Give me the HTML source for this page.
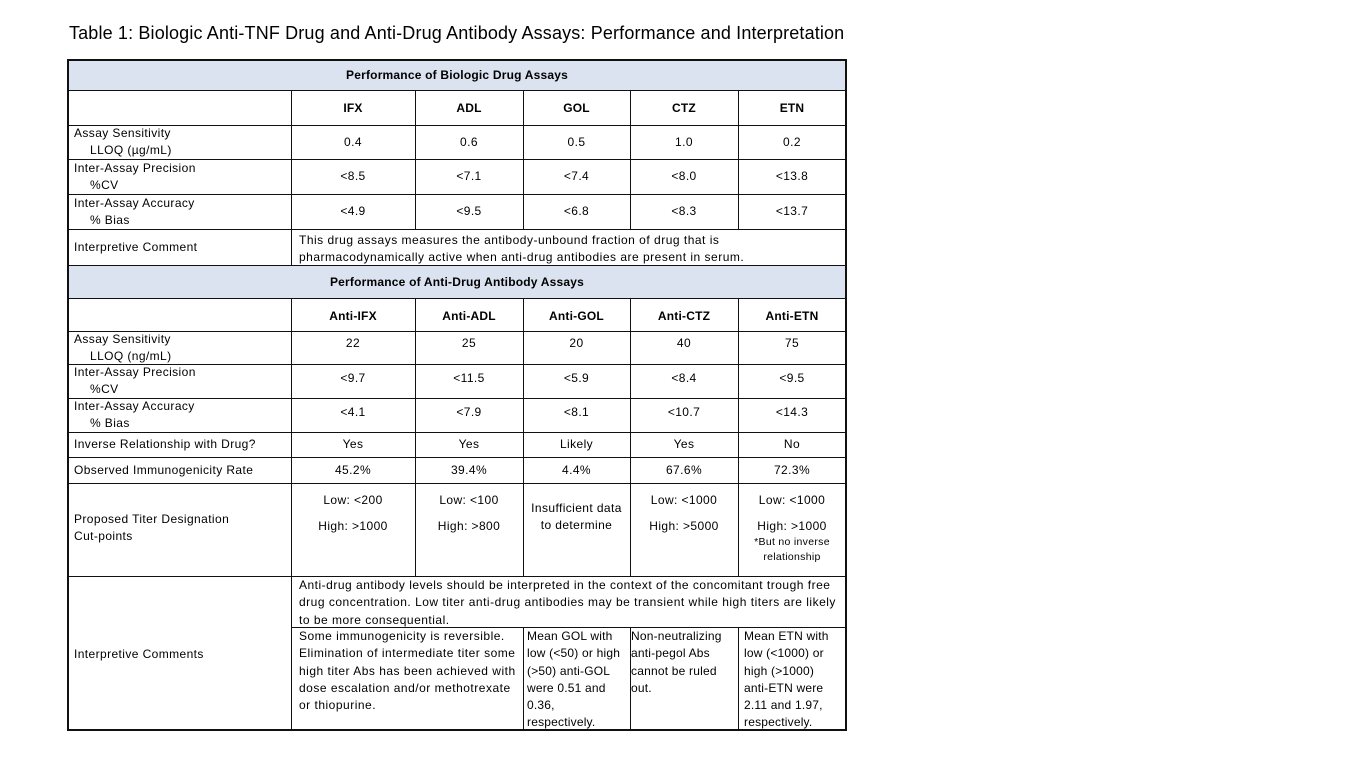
<!DOCTYPE html><html><head><meta charset="utf-8"><style>
body{margin:0;width:1365px;height:768px;background:#fff;position:relative;overflow:hidden;font-family:"Liberation Sans",sans-serif;color:#000}
.t{position:absolute;left:69px;top:23px;font-size:18px;letter-spacing:0.15px}
.b{position:absolute;background:#dbe3f1}
.h{position:absolute;background:#111;height:1px}
.v{position:absolute;background:#111;width:1px}
.c{position:absolute;display:flex;align-items:center;justify-content:center;text-align:center;font-size:12px;letter-spacing:0.4px;line-height:17px}
.l{position:absolute;display:flex;flex-direction:column;justify-content:center;font-size:12px;letter-spacing:0.4px;line-height:17px;padding-left:6px;box-sizing:border-box}
.l i{font-style:normal;padding-left:16px}
.bo{font-weight:bold;letter-spacing:0.2px}
.p{position:absolute;font-size:12px;letter-spacing:0.5px;line-height:17.3px;padding-left:6px;box-sizing:border-box;white-space:nowrap}
</style></head><body>
<div class="t">Table 1: Biologic Anti-TNF Drug and Anti-Drug Antibody Assays: Performance and Interpretation</div>
<div class="b" style="left:68px;top:60px;width:778px;height:31px"></div>
<div class="b" style="left:68px;top:266px;width:778px;height:32px"></div>
<div class="h" style="left:67px;top:59px;width:780px;height:2px"></div>
<div class="h" style="left:67px;top:90px;width:780px"></div>
<div class="h" style="left:67px;top:125px;width:780px"></div>
<div class="h" style="left:67px;top:159px;width:780px"></div>
<div class="h" style="left:67px;top:194px;width:780px"></div>
<div class="h" style="left:67px;top:229px;width:780px"></div>
<div class="h" style="left:67px;top:265px;width:780px"></div>
<div class="h" style="left:67px;top:298px;width:780px"></div>
<div class="h" style="left:67px;top:331px;width:780px"></div>
<div class="h" style="left:67px;top:364px;width:780px"></div>
<div class="h" style="left:67px;top:398px;width:780px"></div>
<div class="h" style="left:67px;top:432px;width:780px"></div>
<div class="h" style="left:67px;top:457px;width:780px"></div>
<div class="h" style="left:67px;top:483px;width:780px"></div>
<div class="h" style="left:67px;top:576px;width:780px"></div>
<div class="h" style="left:291px;top:627px;width:556px"></div>
<div class="h" style="left:67px;top:729px;width:780px;height:2px"></div>
<div class="v" style="left:67px;top:59px;height:672px;width:2px"></div>
<div class="v" style="left:845px;top:59px;height:672px;width:2px"></div>
<div class="v" style="left:291px;top:91px;height:175px"></div>
<div class="v" style="left:415px;top:91px;height:138px"></div>
<div class="v" style="left:523px;top:91px;height:138px"></div>
<div class="v" style="left:630px;top:91px;height:138px"></div>
<div class="v" style="left:738px;top:91px;height:138px"></div>
<div class="v" style="left:291px;top:298px;height:432px"></div>
<div class="v" style="left:415px;top:298px;height:278px"></div>
<div class="v" style="left:523px;top:298px;height:278px"></div>
<div class="v" style="left:630px;top:298px;height:278px"></div>
<div class="v" style="left:738px;top:298px;height:278px"></div>
<div class="v" style="left:523px;top:627px;height:103px"></div>
<div class="v" style="left:630px;top:627px;height:103px"></div>
<div class="v" style="left:738px;top:627px;height:103px"></div>

<div class="c bo" style="left:68px;top:60px;width:778px;height:31px">Performance of Biologic Drug Assays</div>
<div class="c bo" style="left:291px;top:91px;width:124px;height:34px">IFX</div>
<div class="c bo" style="left:415px;top:91px;width:108px;height:34px">ADL</div>
<div class="c bo" style="left:523px;top:91px;width:107px;height:34px">GOL</div>
<div class="c bo" style="left:630px;top:91px;width:108px;height:34px">CTZ</div>
<div class="c bo" style="left:738px;top:91px;width:108px;height:34px">ETN</div>

<div class="l" style="left:68px;top:125px;width:223px;height:34px">Assay Sensitivity<i>LLOQ (µg/mL)</i></div>
<div class="c" style="left:291px;top:125px;width:124px;height:34px">0.4</div>
<div class="c" style="left:415px;top:125px;width:108px;height:34px">0.6</div>
<div class="c" style="left:523px;top:125px;width:107px;height:34px">0.5</div>
<div class="c" style="left:630px;top:125px;width:108px;height:34px">1.0</div>
<div class="c" style="left:738px;top:125px;width:108px;height:34px">0.2</div>

<div class="l" style="left:68px;top:159px;width:223px;height:35px">Inter-Assay Precision<i>%CV</i></div>
<div class="c" style="left:291px;top:159px;width:124px;height:35px">&lt;8.5</div>
<div class="c" style="left:415px;top:159px;width:108px;height:35px">&lt;7.1</div>
<div class="c" style="left:523px;top:159px;width:107px;height:35px">&lt;7.4</div>
<div class="c" style="left:630px;top:159px;width:108px;height:35px">&lt;8.0</div>
<div class="c" style="left:738px;top:159px;width:108px;height:35px">&lt;13.8</div>

<div class="l" style="left:68px;top:194px;width:223px;height:35px">Inter-Assay Accuracy<i>% Bias</i></div>
<div class="c" style="left:291px;top:194px;width:124px;height:35px">&lt;4.9</div>
<div class="c" style="left:415px;top:194px;width:108px;height:35px">&lt;9.5</div>
<div class="c" style="left:523px;top:194px;width:107px;height:35px">&lt;6.8</div>
<div class="c" style="left:630px;top:194px;width:108px;height:35px">&lt;8.3</div>
<div class="c" style="left:738px;top:194px;width:108px;height:35px">&lt;13.7</div>

<div class="l" style="left:68px;top:229px;width:223px;height:37px">Interpretive Comment</div>
<div class="p" style="left:293px;top:232px;width:550px">This drug assays measures the antibody-unbound fraction of drug that is<br>pharmacodynamically active when anti-drug antibodies are present in serum.</div>

<div class="c bo" style="left:68px;top:266px;width:778px;height:32px">Performance of Anti-Drug Antibody Assays</div>
<div class="c bo" style="left:291px;top:298px;width:124px;height:36px">Anti-IFX</div>
<div class="c bo" style="left:415px;top:298px;width:108px;height:36px">Anti-ADL</div>
<div class="c bo" style="left:523px;top:298px;width:107px;height:36px">Anti-GOL</div>
<div class="c bo" style="left:630px;top:298px;width:108px;height:36px">Anti-CTZ</div>
<div class="c bo" style="left:738px;top:298px;width:108px;height:36px">Anti-ETN</div>

<div class="l" style="left:68px;top:331px;width:223px;height:33px">Assay Sensitivity<i>LLOQ (ng/mL)</i></div>
<div class="c" style="left:291px;top:327px;width:124px;height:33px">22</div>
<div class="c" style="left:415px;top:327px;width:108px;height:33px">25</div>
<div class="c" style="left:523px;top:327px;width:107px;height:33px">20</div>
<div class="c" style="left:630px;top:327px;width:108px;height:33px">40</div>
<div class="c" style="left:738px;top:327px;width:108px;height:33px">75</div>

<div class="l" style="left:68px;top:364px;width:223px;height:34px">Inter-Assay Precision<i>%CV</i></div>
<div class="c" style="left:291px;top:361px;width:124px;height:34px">&lt;9.7</div>
<div class="c" style="left:415px;top:361px;width:108px;height:34px">&lt;11.5</div>
<div class="c" style="left:523px;top:361px;width:107px;height:34px">&lt;5.9</div>
<div class="c" style="left:630px;top:361px;width:108px;height:34px">&lt;8.4</div>
<div class="c" style="left:738px;top:361px;width:108px;height:34px">&lt;9.5</div>

<div class="l" style="left:68px;top:398px;width:223px;height:34px">Inter-Assay Accuracy<i>% Bias</i></div>
<div class="c" style="left:291px;top:395px;width:124px;height:34px">&lt;4.1</div>
<div class="c" style="left:415px;top:395px;width:108px;height:34px">&lt;7.9</div>
<div class="c" style="left:523px;top:395px;width:107px;height:34px">&lt;8.1</div>
<div class="c" style="left:630px;top:395px;width:108px;height:34px">&lt;10.7</div>
<div class="c" style="left:738px;top:395px;width:108px;height:34px">&lt;14.3</div>

<div class="l" style="left:68px;top:432px;width:223px;height:25px">Inverse Relationship with Drug?</div>
<div class="c" style="left:291px;top:432px;width:124px;height:25px">Yes</div>
<div class="c" style="left:415px;top:432px;width:108px;height:25px">Yes</div>
<div class="c" style="left:523px;top:432px;width:107px;height:25px">Likely</div>
<div class="c" style="left:630px;top:432px;width:108px;height:25px">Yes</div>
<div class="c" style="left:738px;top:432px;width:108px;height:25px">No</div>

<div class="l" style="left:68px;top:457px;width:223px;height:26px">Observed Immunogenicity Rate</div>
<div class="c" style="left:291px;top:457px;width:124px;height:26px">45.2%</div>
<div class="c" style="left:415px;top:457px;width:108px;height:26px">39.4%</div>
<div class="c" style="left:523px;top:457px;width:107px;height:26px">4.4%</div>
<div class="c" style="left:630px;top:457px;width:108px;height:26px">67.6%</div>
<div class="c" style="left:738px;top:457px;width:108px;height:26px">72.3%</div>

<div class="l" style="left:68px;top:510px;width:223px;height:36px">Proposed Titer Designation<span>Cut-points</span></div>
<div class="c" style="left:291px;top:492px;width:124px;height:17px">Low: &lt;200</div>
<div class="c" style="left:291px;top:518px;width:124px;height:17px">High: &gt;1000</div>
<div class="c" style="left:415px;top:492px;width:108px;height:17px">Low: &lt;100</div>
<div class="c" style="left:415px;top:518px;width:108px;height:17px">High: &gt;800</div>
<div class="c" style="left:523px;top:500px;width:107px;height:34px">Insufficient data<br>to determine</div>
<div class="c" style="left:630px;top:492px;width:108px;height:17px">Low: &lt;1000</div>
<div class="c" style="left:630px;top:518px;width:108px;height:17px">High: &gt;5000</div>
<div class="c" style="left:738px;top:492px;width:108px;height:17px">Low: &lt;1000</div>
<div class="c" style="left:738px;top:518px;width:108px;height:17px">High: &gt;1000</div>
<div class="c" style="left:738px;top:535px;width:108px;height:30px;font-size:10.5px;line-height:15px;letter-spacing:0.3px">*But no inverse<br>relationship</div>

<div class="l" style="left:68px;top:640px;width:223px;height:28px">Interpretive Comments</div>
<div class="p" style="left:293px;top:577px;width:552px">Anti-drug antibody levels should be interpreted in the context of the concomitant trough free<br>drug concentration. Low titer anti-drug antibodies may be transient while high titers are likely<br>to be more consequential.</div>
<div class="p" style="left:293px;top:628px;width:232px">Some immunogenicity is reversible.<br>Elimination of intermediate titer some<br>high titer Abs has been achieved with<br>dose escalation and/or methotrexate<br>or thiopurine.</div>
<div class="p" style="left:523px;top:628px;width:110px;padding-left:4px;letter-spacing:0.2px">Mean GOL with<br>low (&lt;50) or high<br>(&gt;50) anti-GOL<br>were 0.51 and<br>0.36,<br>respectively.</div>
<div class="p" style="left:630px;top:628px;width:110px;padding-left:1px;letter-spacing:0.2px">Non-neutralizing<br>anti-pegol Abs<br>cannot be ruled<br>out.</div>
<div class="p" style="left:738px;top:628px;width:108px;padding-left:6px;letter-spacing:0.2px">Mean ETN with<br>low (&lt;1000) or<br>high (&gt;1000)<br>anti-ETN were<br>2.11 and 1.97,<br>respectively.</div>
</body></html>
